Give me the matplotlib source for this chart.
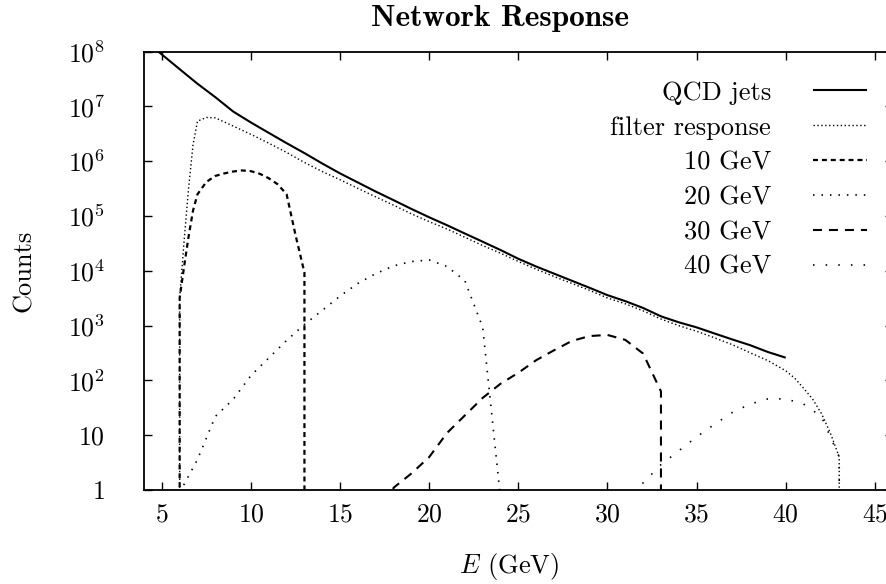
import matplotlib
matplotlib.use("Agg")
import matplotlib.pyplot as plt
from matplotlib.ticker import FixedLocator, FixedFormatter, NullLocator

plt.rcParams['font.family'] = ['cmr10', 'DejaVu Serif']
plt.rcParams['mathtext.fontset'] = 'cm'
plt.rcParams['axes.formatter.use_mathtext'] = True
plt.rcParams['lines.scale_dashes'] = False

# QCD jet spectrum
qcd_E = [4, 5, 6, 7, 8, 9, 10, 11, 12, 13, 14, 15, 16, 17, 18, 19, 20, 21, 22,
         23, 24, 25, 26, 27, 28, 29, 30, 31, 32, 33, 34, 35, 36, 37, 38, 39, 40]
qcd_counts = [1.66e8, 8.9e7, 4.8e7, 2.6e7, 1.48e7, 8.1e6, 5.1e6, 3.3e6, 2.14e6,
              1.41e6, 9.1e5, 6.0e5, 4.1e5, 2.8e5, 1.95e5, 1.35e5, 9.5e4, 6.8e4,
              4.8e4, 3.4e4, 2.4e4, 1.66e4, 1.2e4, 8.9e3, 6.6e3, 4.9e3, 3.6e3,
              2.8e3, 2.1e3, 1.48e3, 1.15e3, 9.3e2, 7.2e2, 5.6e2, 4.4e2, 3.3e2, 2.6e2]

# filter response to QCD jets
filt_E = [6.0, 6.0, 6.25, 6.5, 6.75, 7.0, 7.5, 8, 9, 10, 11, 12, 13, 14, 15, 16,
          17, 18, 19, 20, 21, 22, 23, 24, 25, 26, 27, 28, 29, 30, 31, 32, 33, 34,
          35, 36, 37, 38, 39, 40, 40.5, 41, 41.5, 42, 42.5, 43.0, 43.0]
filt_counts = [1e-3, 3.2e3, 3.5e4, 3.2e5, 2.0e6, 5.4e6, 6.3e6, 6.2e6, 4.4e6, 3.1e6,
               2.14e6, 1.45e6, 9.5e5, 6.5e5, 4.6e5, 3.2e5, 2.24e5, 1.58e5, 1.1e5,
               7.9e4, 5.8e4, 4.1e4, 2.9e4, 2.1e4, 1.48e4, 1.07e4, 7.9e3, 5.9e3,
               4.4e3, 3.2e3, 2.5e3, 1.86e3, 1.32e3, 1.0e3, 7.9e2, 6.0e2, 4.5e2,
               3.2e2, 2.3e2, 1.5e2, 1.1e2, 72, 46, 25, 11, 4, 1e-3]

# signal responses
s10_E = [6.0, 6.0, 6.25, 6.5, 6.75, 7.0, 7.5, 8.0, 8.5, 9.0, 9.5, 10.0, 10.5,
         11.0, 11.5, 12.0, 12.5, 13.0, 13.0]
s10_counts = [1e-3, 3.2e3, 1.2e4, 4.2e4, 1.26e5, 2.5e5, 4.2e5, 5.4e5, 6.0e5,
              6.5e5, 6.8e5, 6.6e5, 5.9e5, 4.9e5, 3.8e5, 2.5e5, 4.5e4, 9.3e3, 1e-3]

s20_E = [6, 7, 8, 9, 10, 11, 12, 13, 14, 15, 16, 17, 18, 19, 20, 21, 22, 23, 24]
s20_counts = [0.9, 3.6, 22, 45, 123, 257, 537, 1050, 1900, 3470, 5900, 8900,
              12300, 14800, 15800, 12000, 6600, 930, 0.7]

s30_E = [17, 18, 19, 20, 21, 22, 23, 24, 25, 26, 27, 28, 29, 30, 31, 32, 33, 33]
s30_counts = [1e-3, 1.1, 2.0, 4.0, 11, 23, 48, 87, 138, 234, 355, 525, 646, 676,
              550, 309, 63, 1e-3]

s40_E = [31, 32, 33, 34, 35, 36, 37, 38, 39, 40, 41, 42, 43, 43]
s40_counts = [0.6, 1.35, 2.9, 5.2, 9.3, 15.8, 26, 37, 46, 46, 37, 22, 4, 1e-3]

x_ticks = [5, 10, 15, 20, 25, 30, 35, 40, 45]
y_ticks = [1, 10, 1e2, 1e3, 1e4, 1e5, 1e6, 1e7, 1e8]
y_labels = ['$1$', '$10$', '$10^{2}$', '$10^{3}$', '$10^{4}$', '$10^{5}$',
            '$10^{6}$', '$10^{7}$', '$10^{8}$']

W, H = 887, 584
fig = plt.figure(figsize=(W / 100, H / 100), dpi=100)
ax = fig.add_axes([144 / W, 1 - 490 / H, (892.7 - 144) / W, (490 - 51.7) / H])

k = dict(color='black', solid_capstyle='butt', dash_capstyle='butt')
ax.plot(qcd_E, qcd_counts, lw=1.5, ls='-', label='QCD jets', **k)
ax.plot(filt_E, filt_counts, lw=1.0, ls=(0, (1.0, 1.8)), label='filter response', **k)
ax.plot(s10_E, s10_counts, lw=1.6, ls=(0, (3.6, 2.8)), label='10 GeV', **k)
ax.plot(s20_E, s20_counts, lw=1.2, ls=(0, (1.1, 5.0)), label='20 GeV', **k)
ax.plot(s30_E, s30_counts, lw=1.5, ls=(0, (6.5, 5.0)), label='30 GeV', **k)
ax.plot(s40_E, s40_counts, lw=1.2, ls=(0, (1.1, 8.0)), label='40 GeV', **k)

ax.set_yscale('log')
ax.set_xlim(4, 46)
ax.set_ylim(1, 1e8)
ax.xaxis.set_major_locator(FixedLocator(x_ticks))
ax.xaxis.set_major_formatter(FixedFormatter(['$%d$' % v for v in x_ticks]))
ax.yaxis.set_major_locator(FixedLocator(y_ticks))
ax.yaxis.set_major_formatter(FixedFormatter(y_labels))
ax.xaxis.set_minor_locator(NullLocator())
ax.yaxis.set_minor_locator(NullLocator())
ax.tick_params(which='major', direction='in', top=True, right=True,
               length=5.8, width=1.0, labelsize=18.5)
ax.tick_params(axis='x', pad=9)
ax.tick_params(axis='y', pad=28)
for s in ax.spines.values():
    s.set_linewidth(1.3)

ax.set_xlabel('$E$ (GeV)', fontsize=19)
ax.xaxis.set_label_coords((509 - 144) / 748.7, -(567 - 490) / 438.3)
ax.xaxis.label.set_va('center')
ax.set_ylabel('Counts', fontsize=19, labelpad=23)
fig.text(500 / W, 1 - 18 / H, 'Network Response', family='cmb10', fontsize=22.5,
         ha='center', va='center')

leg = ax.legend(loc='upper right', bbox_to_anchor=(867 / W, 1 - 81 / H),
                bbox_transform=fig.transFigure, frameon=False, markerfirst=False,
                fontsize=19, handlelength=2.05, handletextpad=1.59,
                labelspacing=0.42, borderpad=0, borderaxespad=0)

fig.savefig('out.png', dpi=100)
